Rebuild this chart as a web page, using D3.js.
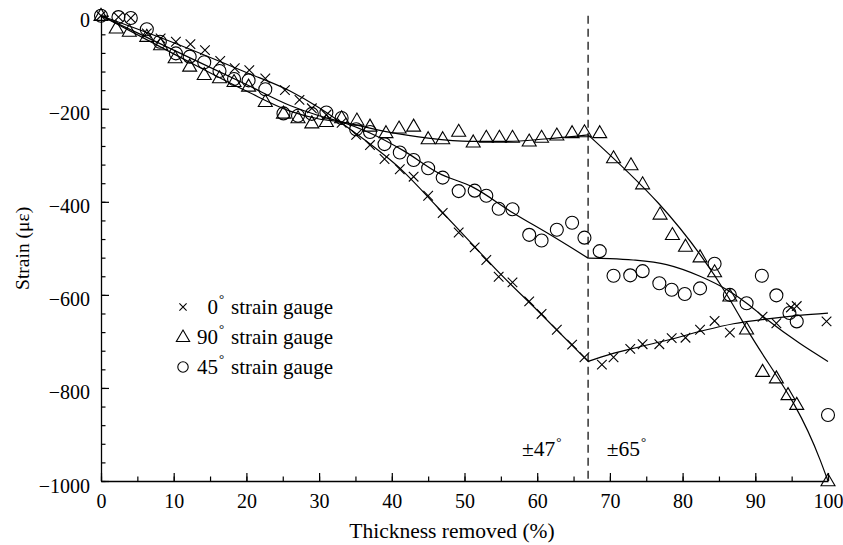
<!DOCTYPE html>
<html>
<head>
<meta charset="utf-8">
<script src="https://cdn.jsdelivr.net/npm/d3@7"></script>
<style>
  body { margin: 0; background: #fff; }
  text { font-family: "Liberation Serif", "Times New Roman", serif; fill: #000; }
</style>
</head>
<body>
<svg id="chart" width="843" height="545"></svg>
<script>
// Measured strain readings, [thickness removed %, strain µε]
const gauge0 = [[0,0],[2.4,-3],[4.1,-5],[6.3,-38],[8.2,-49],[10.3,-56],[12.3,-61],[14.3,-74],[16.4,-97],[18.4,-113],[20.4,-117],[22.6,-135],[25.3,-160],[27.3,-181],[29,-199],[31,-213],[33.1,-230],[35.1,-256],[37,-278],[39,-308],[41.1,-330],[43,-346],[45,-387],[47,-424],[49.2,-466],[51.4,-498],[53,-525],[54.7,-561],[56.6,-573],[58.9,-614],[60.6,-641],[62.7,-675],[64.8,-707],[66.5,-734],[68.9,-750],[70.5,-734],[72.8,-716],[74.5,-706],[76.8,-706],[78.5,-693],[80.4,-692],[82.4,-675],[84.4,-656],[86.5,-681],[91,-647],[92.9,-661],[94.9,-627],[95.7,-624],[99.8,-657]];
const gauge90 = [[0,0],[2.1,-27],[3.9,-34],[6.3,-45],[8.2,-63],[10.2,-91],[12.2,-109],[14.2,-127],[16.3,-134],[18.3,-142],[20.3,-152],[22.6,-185],[25.1,-210],[27.1,-220],[29,-231],[31,-228],[33.1,-220],[35.2,-225],[37,-238],[39.2,-252],[41,-242],[43,-238],[45,-265],[47,-265],[49.2,-249],[51.2,-272],[53,-262],[54.8,-262],[56.6,-262],[58.9,-270],[60.6,-262],[62.7,-257],[64.8,-252],[66.5,-250],[68.6,-252],[70.5,-306],[72.9,-321],[74.5,-362],[76.9,-427],[78.6,-471],[80.4,-496],[82.4,-519],[84.4,-551],[86.5,-603],[88.8,-674],[91,-765],[92.9,-779],[94.5,-815],[95.7,-836],[100,-1000]];
const gauge45 = [[0,0],[2.4,-3],[4.1,-5],[6.3,-29],[8.1,-56],[10.3,-81],[12.2,-88],[14.2,-100],[16.3,-119],[18.3,-136],[20.3,-139],[22.6,-158],[25.1,-210],[27.1,-215],[29,-211],[31,-208],[33.1,-220],[35.1,-244],[37,-250],[39,-276],[41.1,-294],[43,-310],[45,-328],[47,-348],[49.2,-377],[51.4,-376],[53,-387],[54.7,-415],[56.6,-416],[58.9,-471],[60.6,-483],[62.7,-460],[64.8,-445],[66.5,-477],[68.6,-506],[70.5,-559],[72.8,-558],[74.5,-549],[76.8,-575],[78.5,-589],[80.3,-598],[82.4,-586],[84.4,-533],[86.5,-600],[88.8,-618],[90.9,-559],[92.9,-601],[94.7,-639],[95.7,-657],[100,-858]];

// Fitted trend curves, split at the layup change (67 %)
const fit0Before = [[0,0],[10,-58],[20,-122],[26,-162],[30,-198],[34.7,-249],[41.6,-335],[46.2,-410],[51,-490],[55,-556],[60,-633],[67,-743]];
const fit0After = [[67,-743],[70,-728],[74,-712],[78,-697],[83,-676],[87,-662],[92,-651],[96,-644],[100,-639]];
const fit90Before = [[0,0],[10,-82],[20,-162],[26,-205],[30,-222],[33,-228],[39.2,-249],[45,-263],[50.8,-270],[56,-270],[61,-265],[67,-256]];
const fit90After = [[67,-256],[86.3,-605],[88.8,-672],[98.9,-954],[100,-1000]];
const fit45Before = [[0,0],[10,-74],[20,-148],[26,-193],[30,-215],[33,-228],[37,-252],[41.6,-290],[46.4,-338],[51.2,-369],[56.7,-424],[61.8,-471],[67,-521]];
const fit45After = [[67,-521],[70,-522],[73.2,-525],[77.8,-535],[82.4,-560],[86.1,-589],[89,-620],[91.6,-653],[96.1,-704],[100,-743]];

const xMajor = d3.range(0, 101, 10);
const xMinor = d3.range(0, 101, 5);
const yMajor = [0, -200, -400, -600, -800, -1000];
const yMinor = d3.range(0, -1001, -40);
const layupChange = 67;
const layupLabels = [{ x: 57.9, text: "\u00b147" }, { x: 69.55, text: "\u00b165" }];
const legendItems = [
  { shape: "cross", num: "0", label: "strain gauge" },
  { shape: "triangle", num: "90", label: "strain gauge" },
  { shape: "circle", num: "45", label: "strain gauge" }
];

const svg = d3.select("#chart");
const x = d3.scaleLinear().domain([0, 100]).range([101, 828]);
const y = d3.scaleLinear().domain([0, -1000]).range([15.7, 481]);

// Axes with inward-pointing ticks
const yAxis = svg.append("g").attr("transform", `translate(${x(0)},0)`)
  .call(d3.axisLeft(y).tickValues(yMajor).tickFormat(d3.format("d"))
    .tickSizeInner(-8).tickSizeOuter(0).tickPadding(11));
svg.append("g").attr("transform", `translate(${x(0)},0)`)
  .call(d3.axisLeft(y).tickValues(yMinor).tickSizeInner(-4.5).tickSizeOuter(0).tickFormat(""))
  .call(g => g.select(".domain").remove());
const xAxis = svg.append("g").attr("transform", `translate(0,${y(-1000)})`)
  .call(d3.axisBottom(x).tickValues(xMajor).tickFormat(d3.format("d"))
    .tickSizeInner(-8).tickSizeOuter(0).tickPadding(13));
svg.append("g").attr("transform", `translate(0,${y(-1000)})`)
  .call(d3.axisBottom(x).tickValues(xMinor).tickSizeInner(-4.5).tickSizeOuter(0).tickFormat(""))
  .call(g => g.select(".domain").remove());

svg.selectAll("g").attr("font-family", null);
svg.selectAll(".domain").attr("stroke", "#000").attr("stroke-width", 1.3);
svg.selectAll(".tick line").attr("stroke", "#000").attr("stroke-width", 1.2);
yAxis.selectAll(".tick text").attr("font-size", 20).attr("dy", "0.55em");
xAxis.selectAll(".tick text").attr("font-size", 20);

// Axis titles
svg.append("text").attr("x", 452).attr("y", 538).attr("text-anchor", "middle")
  .attr("font-size", 21.5).text("Thickness removed (%)");
svg.append("text").attr("transform", `translate(29,${(y(0) + y(-1000)) / 2}) rotate(-90)`)
  .attr("text-anchor", "middle").attr("font-size", 19.5).text("Strain (\u03bc\u03b5)");

// Layup change marker
svg.append("line").attr("x1", x(layupChange)).attr("x2", x(layupChange))
  .attr("y1", y(0)).attr("y2", y(-1000))
  .attr("stroke", "#000").attr("stroke-width", 1.2).attr("stroke-dasharray", "8,5");
layupLabels.forEach(d => {
  const t = svg.append("text").attr("x", x(d.x)).attr("y", 456).attr("font-size", 21.5);
  t.append("tspan").text(d.text);
  t.append("tspan").attr("dx", 1).attr("dy", -10).attr("font-size", 13).text("\u00b0");
});

// Fit curves
const line = d3.line().x(d => x(d[0])).y(d => y(d[1])).curve(d3.curveMonotoneX);
[fit0Before, fit0After, fit90Before, fit90After, fit45Before, fit45After].forEach(f => {
  svg.append("path").attr("d", line(f)).attr("fill", "none")
    .attr("stroke", "#000").attr("stroke-width", 1.2);
});

// Marker shapes
function drawMarker(g, shape, cx, cy, s) {
  if (shape === "cross") {
    const h = 4.8 * s;
    g.append("path").attr("d", `M${cx - h},${cy - h}L${cx + h},${cy + h}M${cx - h},${cy + h}L${cx + h},${cy - h}`)
      .attr("stroke", "#000").attr("stroke-width", 1.1).attr("fill", "none");
  } else if (shape === "triangle") {
    const w = 7 * s, top = 7.3 * s, bot = 4.7 * s;
    g.append("path").attr("d", `M${cx},${cy - top}L${cx + w},${cy + bot}L${cx - w},${cy + bot}Z`)
      .attr("stroke", "#000").attr("stroke-width", 1.1).attr("fill", "none");
  } else {
    g.append("circle").attr("cx", cx).attr("cy", cy).attr("r", 6.5 * s)
      .attr("stroke", "#000").attr("stroke-width", 1.1).attr("fill", "none");
  }
}

const pts = svg.append("g");
gauge0.forEach(d => drawMarker(pts, "cross", x(d[0]), y(d[1]), 1));
gauge90.forEach(d => drawMarker(pts, "triangle", x(d[0]), y(d[1]), 1));
gauge45.forEach(d => drawMarker(pts, "circle", x(d[0]), y(d[1]), 1));

// Legend
const lg = svg.append("g");
legendItems.forEach((d, i) => {
  const cy = 307 + i * 30;
  drawMarker(lg, d.shape, 183, cy, d.shape === "cross" ? 0.75 : d.shape === "circle" ? 0.8 : 0.95);
  lg.append("text").attr("x", 218).attr("y", cy + 7).attr("text-anchor", "end").attr("font-size", 21).text(d.num);
  lg.append("text").attr("x", 219).attr("y", cy - 4).attr("font-size", 13).text("\u00b0");
  lg.append("text").attr("x", 231).attr("y", cy + 7).attr("font-size", 21).text(d.label);
});
</script>
</body>
</html>
